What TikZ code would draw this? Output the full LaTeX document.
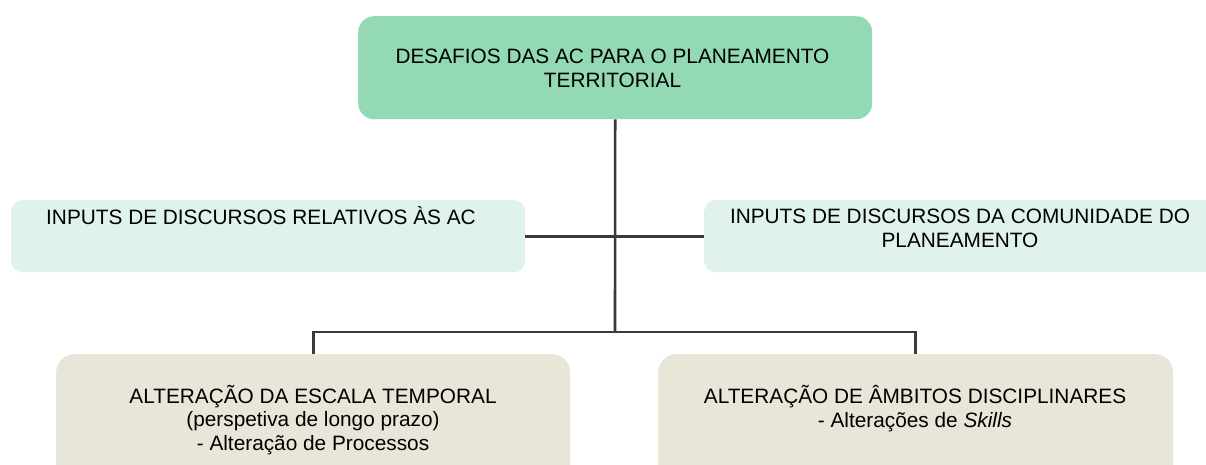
\documentclass[tikz,border=0pt]{standalone}
\usepackage{fontspec}
\setmainfont{Liberation Sans}
\definecolor{topgreen}{HTML}{92D9B4}
\definecolor{mint}{HTML}{E0F2EE}
\definecolor{beige}{HTML}{E8E6D8}
\definecolor{connc}{HTML}{3A3A3A}
\begin{document}
\begin{tikzpicture}[x=1pt,y=-1pt,
  box/.style={draw=none, inner sep=0pt, anchor=north west},
  txt/.style={align=center, inner sep=0pt, font=\fontsize{20.8}{23.7}\selectfont},
  conn/.style={draw=connc, line width=2.6pt}]
\useasboundingbox (0,0) rectangle (1206,465);
\clip (0,0) rectangle (1206,465);
% boxes
\node[box, fill=topgreen, rounded corners=16pt, minimum width=514pt, minimum height=103pt] (top) at (358,16) {};
\node[box, fill=mint, rounded corners=11pt, minimum width=514pt, minimum height=72pt] (ml) at (11,200) {};
\node[box, fill=mint, rounded corners=11pt, minimum width=530pt, minimum height=72pt] (mr) at (704,200) {};
\node[box, fill=beige, rounded corners=18pt, minimum width=514pt, minimum height=140pt] (bl) at (56,354) {};
\node[box, fill=beige, rounded corners=18pt, minimum width=515pt, minimum height=140pt] (br) at (658,354) {};
% texts
\node[txt] (toptext) at (612.5,68) {DESAFIOS DAS AC PARA O PLANEAMENTO\\TERRITORIAL};
\node[txt] (mltext) at (261,216) {INPUTS DE DISCURSOS RELATIVOS ÀS AC};
\node[txt] (mrtext) at (960,228) {INPUTS DE DISCURSOS DA COMUNIDADE DO\\PLANEAMENTO};
\node[txt] (bltext) at (313,420) {ALTERAÇÃO DA ESCALA TEMPORAL\\(perspetiva de longo prazo)\\- Alteração de Processos};
\node[txt] (brtext) at (915,408.5) {ALTERAÇÃO DE ÂMBITOS DISCIPLINARES\\- Alterações de \textit{Skills}};
% connectors
\coordinate (j) at (615,332);
\draw[conn] (top.south) -- (j);
\draw[conn] (ml.east) -- (mr.west);
\draw[conn] (bl.north) |- (j) -| (br.north);
\end{tikzpicture}
\end{document}
